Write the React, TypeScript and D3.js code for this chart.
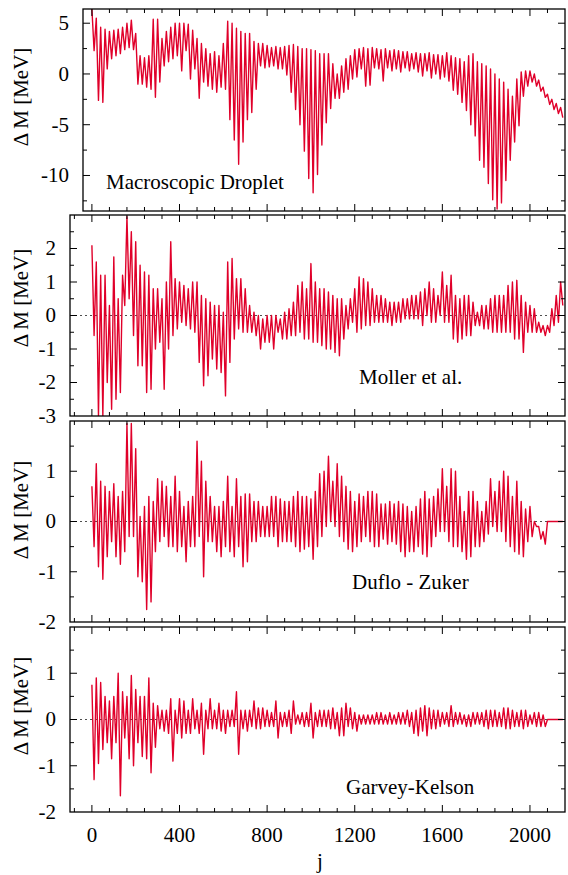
import React from 'react';
import * as d3 from 'd3';

// j axis ticks
const jMajor = [0, 400, 800, 1200, 1600, 2000];
const jMinorStep = 80;
const binStep = 20; // every hi/lo pair below spans 20 units of j

// Macroscopic Droplet: upper / lower excursions per 20-wide bin of j
const dropletHi = [
  6.4, 5.5, 4.6, 4.4, 4.2, 4.3, 4.4, 4.6, 5.0, 5.3,
  4.0, 1.8, 1.6, 1.8, 5.4, 5.4, 3.5, 4.2, 4.6, 5.0,
  5.0, 5.0, 4.9, 4.3, 3.5, 3.0, 2.5, 2.0, 2.2, 1.8,
  3.0, 5.2, 5.0, 4.5, 4.2, 4.0, 4.0, 3.2, 3.0, 3.0,
  2.8, 2.6, 2.7, 2.6, 2.7, 2.8, 2.9, 2.7, 2.5, 2.5,
  2.4, 2.3, 2.0, 2.0, 2.0, 1.0, 0.0, 0.8, 1.5, 1.8,
  2.4, 2.5, 2.6, 2.5, 2.6, 2.5, 2.4, 2.5, 2.3, 2.4,
  2.3, 2.2, 2.2, 2.0, 2.1, 2.0, 2.0, 2.1, 1.9, 1.9,
  1.8, 2.1, 1.8, 1.6, 1.5, 1.2, 1.8, 2.0, 1.2, 1.0,
  0.8, 0.5, 0.0, -0.5, -0.8, -1.5, -2.2, -0.5, 0.2, 0.3,
  0.3, 0.0, -0.6, -1.3, -2.0, -2.5, -2.9, -3.3,
];
const dropletLo = [
  2.3, -2.6, -2.8, 0.5, 1.5, 1.8, 2.0, 2.4, 2.6, 2.4,
  -1.0, -1.0, -1.3, -1.5, -2.3, -0.8, 0.8, 1.2, 1.5, 1.8,
  0.3, 2.3, -0.5, 0.5, -2.4, -0.8, -1.2, -1.5, -1.8, -1.3,
  -1.5, -4.5, -6.5, -8.9, -6.7, -4.5, -3.8, -1.5, 0.8, 0.6,
  0.7, 0.8, 0.5, 0.5, -0.1, -1.8, -3.5, -5.0, -7.6, -10.3,
  -11.7, -9.9, -7.0, -4.8, -3.4, -2.4, -2.4, -1.8, -1.5, -0.5,
  -0.3, 0.5, -1.2, -1.1, 0.6, 0.5, -0.7, 0.6, 0.3, 0.5,
  0.2, 0.6, 0.3, 0.5, 0.2, -0.2, 0.3, -0.4, 0.0, -0.5,
  -0.3, -0.7, -1.6, -2.0, -2.8, -3.6, -5.0, -6.1, -8.5, -9.2,
  -10.8, -12.4, -13.3, -12.7, -10.5, -8.5, -6.7, -5.1, -2.2, -1.2,
  -0.8, -1.2, -1.7, -2.3, -3.0, -3.5, -3.9, -4.3,
];

// Moller et al.
const mollerHi = [
  2.1, 1.6, 1.2, 1.2, 0.3, 1.75, 0.5, 1.2, 2.95, 2.5,
  2.2, 1.5, 1.3, 1.2, 0.8, 0.8, 0.5, 1.0, 2.2, 1.1,
  1.0, 0.9, 0.8, 1.0, 1.0, 0.6, 0.5, 0.4, 0.3, 0.3,
  0.1, 1.6, 1.7, 1.1, 1.1, 0.8, 0.3, 0.1, 0.0, -0.1,
  0.0, 0.0, 0.0, -0.1, 0.1, 0.2, 0.4, 0.9, 1.0, 0.8,
  1.55, 1.0, 0.8, 0.8, 0.7, 0.6, 0.5, 0.5, 0.3, 0.5,
  0.8, 1.15, 1.1, 1.0, 0.8, 0.6, 0.6, 0.5, 0.4, 0.4,
  0.4, 0.5, 0.5, 0.6, 0.6, 0.7, 0.8, 1.0, 0.8, 0.6,
  1.3, 0.9, 1.2, 0.6, 0.5, 0.6, 0.6, 0.4, 0.1, 0.3,
  0.3, 0.5, 0.6, 0.6, 0.6, 0.9, 1.0, 1.05, 0.6, 0.4,
  0.3, 0.2, -0.2, -0.3, -0.3, 0.2, 0.6, 1.0,
];
const mollerLo = [
  -0.6, -3.0, -3.0, -2.0, -2.8, -2.5, -2.3, 0.3, 0.5, -0.6,
  -1.5, -1.5, -2.3, -2.2, -1.0, -0.8, -2.2, -1.0, -0.6, -0.4,
  -0.2, -0.3, -0.4, -0.5, -1.4, -2.1, -1.8, -1.3, -1.6, -1.7,
  -2.4, -1.4, -0.7, -0.4, -0.5, -0.5, -0.5, -0.6, -1.0, -0.8,
  -0.8, -1.0, -0.5, -0.7, -0.7, -0.6, -0.6, -0.5, -0.7, -0.7,
  -0.8, -0.8, -0.9, -1.0, -1.0, -1.1, -1.2, -0.7, -0.4, -0.2,
  -0.5, -0.4, -0.3, -0.3, -0.2, -0.2, -0.2, -0.2, -0.3, -0.2,
  -0.2, -0.1, -0.1, -0.1, -0.1, -0.3, 0.0, -0.2, -0.2, 0.0,
  -0.2, -0.2, -0.7, -0.8, -0.7, -0.6, -0.6, -0.3, -0.3, -0.4,
  -0.4, -0.5, -0.5, -0.5, -0.5, -0.5, -0.7, -0.7, -1.1, -0.5,
  -0.5, -0.5, -0.5, -0.6, -0.5, -0.3, -0.2, 0.3,
];

// Duflo - Zuker
const dufloHi = [
  0.7, 1.15, 0.8, 0.7, 0.6, 0.75, 0.5, 0.6, 1.95, 1.95,
  1.45, 0.1, 0.3, 0.5, 0.4, 0.85, 0.8, 0.7, 0.5, 0.9,
  0.6, 0.3, 0.4, 0.5, 1.6, 1.2, 0.8, 0.5, 0.3, 0.3,
  0.4, 0.9, 0.3, 0.85, 0.5, 0.55, 0.55, 0.4, 0.4, 0.3,
  0.3, 0.5, 0.5, 0.45, 0.4, 0.4, 0.5, 0.6, 0.5, 0.5,
  0.45, 0.6, 0.95, 1.0, 1.3, 0.8, 1.15, 0.9, 0.7, 0.6,
  0.4, 0.55, 0.5, 0.6, 0.6, 0.55, 0.35, 0.35, 0.4, 0.35,
  0.4, 0.35, 0.3, 0.2, 0.3, 0.45, 0.6, 0.45, 0.5, 0.65,
  1.05, 0.7, 1.05, 1.0, 0.5, 0.2, 0.6, 0.6, 0.4, 0.2,
  0.4, 0.85, 0.6, 0.8, 1.0, 0.9, 0.5, 0.8, 0.4, 0.25,
  0.3, 0.0, -0.1, -0.2,
];
const dufloLo = [
  -0.5, -0.9, -1.15, -0.7, -0.4, -0.7, -0.85, -0.6, -0.3, -0.3,
  -1.1, -1.2, -1.75, -1.6, -0.6, -0.4, -0.3, -0.5, -0.5, -0.6,
  -0.5, -0.8, -0.5, -0.5, -0.3, -1.1, -0.4, -0.4, -0.6, -0.7,
  -0.5, -0.6, -0.7, -0.5, -0.9, -0.8, -0.4, -0.4, -0.3, -0.3,
  -0.3, -0.3, -0.5, -0.4, -0.4, -0.4, -0.5, -0.6, -0.55, -0.5,
  -0.75, -0.5, -0.3, -0.1, 0.0, -0.1, -0.3, -0.4, -0.55, -0.6,
  -0.5, -0.4, -0.3, -0.4, -0.5, -0.5, -0.35, -0.45, -0.4, -0.45,
  -0.6, -0.7, -0.6, -0.6, -0.5, -0.65, -0.7, -0.5, -0.3, -0.2,
  -0.2, -0.4, -0.5, -0.5, -0.6, -0.75, -0.7, -0.5, -0.5, -0.4,
  -0.25, -0.1, -0.2, -0.2, -0.4, -0.5, -0.6, -0.65, -0.7, -0.4,
  -0.3, -0.1, -0.35, -0.45,
];

// Garvey-Kelson
const gkHi = [
  0.75, 0.9, 0.8, 0.5, 0.4, 0.5, 1.0, 0.6, 0.5, 0.95,
  0.65, 0.5, 0.5, 0.9, 0.35, 0.3, 0.2, 0.2, 0.45, 0.2,
  0.45, 0.4, 0.2, 0.45, 0.2, 0.35, 0.2, 0.45, 0.2, 0.35,
  0.2, 0.2, 0.2, 0.6, 0.2, 0.2, 0.2, 0.4, 0.25, 0.25,
  0.2, 0.15, 0.4, 0.15, 0.15, 0.2, 0.4, 0.1, 0.15, 0.15,
  0.35, 0.15, 0.2, 0.2, 0.2, 0.25, 0.15, 0.25, 0.35, 0.25,
  0.15, 0.1, 0.1, 0.1, 0.1, 0.15, 0.15, 0.1, 0.15, 0.1,
  0.15, 0.15, 0.2, 0.15, 0.2, 0.25, 0.3, 0.25, 0.2, 0.2,
  0.15, 0.15, 0.3, 0.15, 0.15, 0.1, 0.1, 0.15, 0.15, 0.15,
  0.2, 0.2, 0.2, 0.15, 0.25, 0.25, 0.2, 0.15, 0.2, 0.2,
  0.1, 0.15, 0.15, 0.1,
];
const gkLo = [
  -1.3, -0.95, -0.65, -0.5, -0.85, -0.5, -1.65, -0.4, -0.85, -1.0,
  -0.5, -0.8, -0.85, -1.15, -0.6, -0.2, -0.25, -0.3, -0.9, -0.3,
  -0.4, -0.3, -0.3, -0.2, -0.3, -0.75, -0.2, -0.2, -0.2, -0.25,
  -0.3, -0.15, -0.15, -0.75, -0.2, -0.25, -0.15, -0.2, -0.2, -0.15,
  -0.15, -0.15, -0.4, -0.15, -0.15, -0.3, -0.1, -0.1, -0.15, -0.15,
  -0.4, -0.15, -0.15, -0.15, -0.2, -0.2, -0.35, -0.35, -0.15, -0.2,
  -0.25, -0.1, -0.1, -0.1, -0.1, -0.1, -0.1, -0.1, -0.1, -0.1,
  -0.1, -0.1, -0.15, -0.3, -0.35, -0.25, -0.35, -0.2, -0.2, -0.15,
  -0.1, -0.15, -0.15, -0.1, -0.1, -0.15, -0.15, -0.1, -0.1, -0.15,
  -0.2, -0.15, -0.15, -0.15, -0.2, -0.2, -0.15, -0.15, -0.2, -0.15,
  -0.1, -0.15, -0.15, -0.15,
];

const tailEnd = 2150; // DZ and GK stay at zero after the last nucleus

const RED = '#e0002a';
const FONT = '"Liberation Serif", "Times New Roman", serif';

const x = d3.scaleLinear().domain([-100, 2160]).range([70, 565]);

const panels = [
  { name: 'Macroscopic Droplet', hi: dropletHi, lo: dropletLo, tail: false, zero: false,
    left: 83, top: 9, bottom: 211, domain: [-13.5, 6.4], ticks: [-10, -5, 0, 5], minor: 2.5,
    tx: 106, ty: 189, ly: 97 },
  { name: 'Moller et al.', hi: mollerHi, lo: mollerLo, tail: false, zero: true,
    left: 70, top: 215, bottom: 416, domain: [-3, 3], ticks: [-3, -2, -1, 0, 1, 2], minor: 0.5,
    tx: 359, ty: 384, ly: 298 },
  { name: 'Duflo - Zuker', hi: dufloHi, lo: dufloLo, tail: true, zero: true,
    left: 70, top: 421, bottom: 622, domain: [-2, 2], ticks: [-2, -1, 0, 1], minor: 0.5,
    tx: 352, ty: 589, ly: 510 },
  { name: 'Garvey-Kelson', hi: gkHi, lo: gkLo, tail: true, zero: true,
    left: 70, top: 627, bottom: 812, domain: [-2, 2], ticks: [-2, -1, 0, 1], minor: 0.5,
    tx: 346, ty: 794, ly: 706 },
];

function series(hi: number[], lo: number[], tail: boolean) {
  const pts: [number, number][] = [];
  hi.forEach((h, k) => {
    pts.push([k * binStep, h]);
    pts.push([k * binStep + binStep / 2, lo[k]]);
  });
  if (tail) {
    pts.push([hi.length * binStep, 0]);
    pts.push([tailEnd, 0]);
  }
  return pts;
}

function Panel({ p, idx }: { p: any; idx: number }) {
  const right = x.range()[1];
  const y = d3.scaleLinear().domain(p.domain).range([p.bottom, p.top]);
  const pts = series(p.hi, p.lo, p.tail);
  const path = d3.line<[number, number]>()
    .x(d => x(d[0]))
    .y(d => y(d[1]))(pts);

  const jMin = x.invert(p.left);
  const minorJ = d3.range(-jMinorStep, 2160, jMinorStep)
    .filter(j => j > jMin + 1 && j < 2160 && j % 400 !== 0);
  const minorY = d3.range(Math.ceil(p.domain[0] / p.minor) * p.minor, p.domain[1] + 1e-6, p.minor)
    .filter(v => v > p.domain[0] + 1e-6 && v < p.domain[1] - 1e-6);

  const clipId = `clip-${idx}`;
  const tk = 'black';
  return (
    <g>
      <defs>
        <clipPath id={clipId}>
          <rect x={p.left} y={p.top} width={right - p.left} height={p.bottom - p.top} />
        </clipPath>
      </defs>
      {p.zero && (
        <line x1={p.left} x2={right} y1={y(0)} y2={y(0)}
          stroke="#222" strokeWidth={0.8} strokeDasharray="2,3" />
      )}
      <path d={path || ''} fill="none" stroke={RED} strokeWidth={1.4}
        strokeLinejoin="round" clipPath={`url(#${clipId})`} />

      {/* x ticks, bottom and top */}
      {jMajor.map(j => (
        <g key={'xm' + j}>
          <line x1={x(j)} x2={x(j)} y1={p.bottom} y2={p.bottom - 7} stroke={tk} />
          <line x1={x(j)} x2={x(j)} y1={p.top} y2={p.top + 7} stroke={tk} />
        </g>
      ))}
      {minorJ.map(j => (
        <g key={'xn' + j}>
          <line x1={x(j)} x2={x(j)} y1={p.bottom} y2={p.bottom - 4} stroke={tk} />
          <line x1={x(j)} x2={x(j)} y1={p.top} y2={p.top + 4} stroke={tk} />
        </g>
      ))}
      {/* y ticks, left and right */}
      {minorY.map(v => {
        const major = p.ticks.includes(Math.round(v * 100) / 100);
        const len = major ? 7 : 4;
        return (
          <g key={'y' + v}>
            <line x1={p.left} x2={p.left + len} y1={y(v)} y2={y(v)} stroke={tk} />
            <line x1={right} x2={right - len} y1={y(v)} y2={y(v)} stroke={tk} />
          </g>
        );
      })}
      {p.ticks.map((v: number) => (
        <text key={'yl' + v} x={p.left - 14} y={y(v)} dy="0.33em" textAnchor="end"
          fontFamily={FONT} fontSize={21}>{String(v)}</text>
      ))}
      <rect x={p.left} y={p.top} width={right - p.left} height={p.bottom - p.top}
        fill="none" stroke="black" strokeWidth={1.3} />
      <text x={p.tx} y={p.ty} fontFamily={FONT} fontSize={21}>{p.name}</text>
      <text transform={`translate(28,${p.ly}) rotate(-90)`} textAnchor="middle"
        fontFamily={FONT} fontSize={21}>Δ M [MeV]</text>
    </g>
  );
}

export default function App() {
  const last = panels[panels.length - 1];
  return (
    <svg width={568} height={875} style={{ position: 'absolute', left: 0, top: 0, background: 'white' }}>
      <rect x={0} y={0} width={568} height={875} fill="white" />
      {panels.map((p, i) => <Panel key={p.name} p={p} idx={i} />)}
      {jMajor.map(j => (
        <text key={'xl' + j} x={x(j)} y={last.bottom + 30} textAnchor="middle"
          fontFamily={FONT} fontSize={21}>{String(j)}</text>
      ))}
      <text x={320} y={868} textAnchor="middle" fontFamily={FONT} fontSize={21}>j</text>
    </svg>
  );
}
